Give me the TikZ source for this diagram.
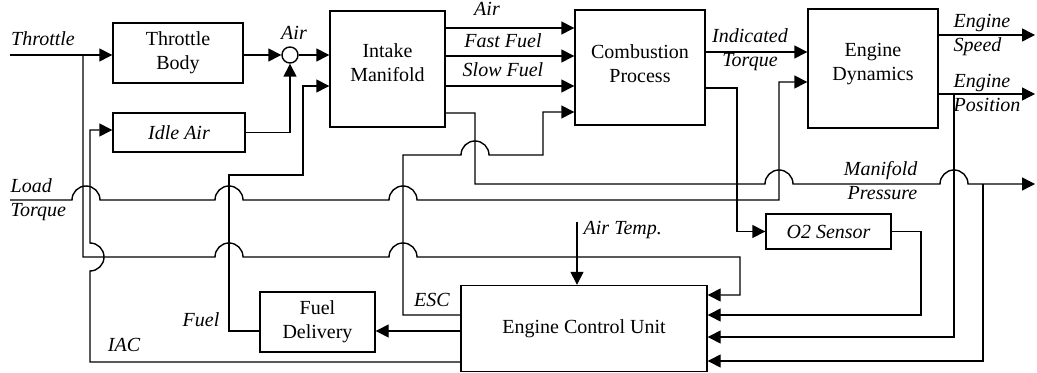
\documentclass[tikz,border=0pt]{standalone}
\usepackage{fontspec}
\setmainfont{Liberation Serif}
\usepackage{tikz}
\usetikzlibrary{arrows.meta,calc}

\begin{document}
\begin{tikzpicture}[x=0.5pt, y=-0.5pt, line width=0.7pt,
    every node/.style={font=\fontsize{10}{12}\selectfont},
    blk/.style={draw, align=center, inner sep=1pt},
    lbl/.style={font=\fontsize{10}{12}\selectfont\itshape, inner sep=1pt},
    arr/.style={-{Triangle[length=6.5pt,width=6.5pt]}}]
      \useasboundingbox (0,0) rectangle (1037,373);
      \node[blk, minimum width=65pt, minimum height=30pt] (tb) at (178,53) {Throttle\\Body};
      \node[blk, minimum width=66pt, minimum height=19.5pt, font=\fontsize{10}{12}\selectfont\itshape] (idle) at (179,132.5) {Idle Air};
      \node[circle, draw, minimum size=8pt, inner sep=0pt] (sum) at (290,55) {};
      \node[blk, minimum width=57.5pt, minimum height=58pt, text depth=6pt] (im) at (387.5,69) {Intake\\Manifold};
      \node[blk, minimum width=65pt, minimum height=57.5pt, text depth=4pt] (cp) at (640,67.5) {Combustion\\Process};
      \node[blk, minimum width=65pt, minimum height=59.5pt, text depth=7pt] (ed) at (873,68.5) {Engine\\Dynamics};
      \node[blk, minimum width=62.5pt, minimum height=17.5pt, font=\fontsize{10}{12}\selectfont\itshape] (o2) at (828.5,231.5) {O2 Sensor};
      \node[blk, minimum width=57.5pt, minimum height=30pt] (fd) at (317.5,322) {Fuel\\Delivery};
      \node[blk, minimum width=123pt, minimum height=43pt] (ecu) at (584,328.5) {Engine Control Unit};
      \coordinate (thr) at (10,55);
      \coordinate (ltq) at (10,200);
      \coordinate (atmp) at (577,222);
      \coordinate (spd) at (1035,35);
      \coordinate (pos) at (1035,94);
      \coordinate (mp) at (1035,184);
      \node[lbl] (lthr) at (43,39) {Throttle};
      \node[lbl] (lair) at (294,33) {Air};
      \node[lbl, anchor=base] (lair2) at (487,16) {Air};
      \node[lbl] (lff) at (503,41) {Fast Fuel};
      \node[lbl] (lsf) at (503,70) {Slow Fuel};
      \node[lbl, align=center] (lit) at (750,50) {Indicated\\Torque};
      \node[lbl, align=left, anchor=west] (lspd) at (951,35) {Engine\\Speed};
      \node[lbl, align=left, anchor=west] (lpos) at (951,93) {Engine\\Position};
      \node[lbl, align=right, anchor=east] (lmp) at (920,181) {Manifold\\Pressure};
      \node[lbl, align=left, anchor=west] (lltq) at (8,200) {Load\\Torque};
      \node[lbl, anchor=west] (lat) at (581,230) {Air Temp.};
      \node[lbl] (lesc) at (432,300) {ESC};
      \node[lbl] (lfuel) at (201,320) {Fuel};
      \node[lbl] (liac) at (124,345) {IAC};
      \draw[arr] (thr) -- (thr -| tb.west);
      \draw[arr] (tb.east |- sum) -- (sum.west);
      \draw[arr] (sum.east) -- (sum -| im.west);
      \draw[arr] (idle.east) -| (sum.south);
      \draw[arr] (83,55) -- (83,257) -- (215,257) arc[start angle=180, end angle=0, radius=7pt]
        -- (389,257) arc[start angle=180, end angle=0, radius=7pt] -- (740,257) |- (ecu.east |- 0,295);
      \draw[arr] (ltq) -- (72,200) arc[start angle=180, end angle=0, radius=7pt]
        -- (215,200) arc[start angle=180, end angle=0, radius=7pt]
        -- (389,200) arc[start angle=180, end angle=0, radius=7pt] -- (779,200) |- (ed.west |- 0,82);
      \draw[arr] (ecu.west |- 0,362) -- (90,362) -- (90,271) arc[start angle=-90, end angle=90, radius=7pt]
        |- (idle.west |- 0,130);
      \draw[arr] (ecu.west |- 0,315) -- (403,315) -- (403,155) -- (461,155) arc[start angle=180, end angle=0, radius=7pt]
        -- (543,155) |- (cp.west |- 0,112);
      \draw[arr] (ecu.west |- 0,331) -- (fd.east |- 0,331);
      \draw[arr] (fd.west |- 0,331) -- (229,331) -- (229,175) -- (303,175) |- (im.west |- 0,86);
      \foreach \yy in {28,56,86}
        \draw[arr] (im.east |- 0,\yy) -- (cp.west |- 0,\yy);
      \draw[arr] (cp.east |- 0,52) -- (ed.west |- 0,52);
      \draw[arr] (cp.east |- 0,88) -- (737,88) |- (o2.west);
      \draw[arr] (o2.east) -| (921,315) -- (ecu.east |- 0,315);
      \draw[arr] (im.east |- 0,113) -- (475,113) -- (475,184) -- (765,184) arc[start angle=180, end angle=0, radius=7pt]
        -- (940,184) arc[start angle=180, end angle=0, radius=7pt] -- (mp);
      \draw[arr] (983,184) |- (ecu.east |- 0,361);
      \draw[arr] (ed.east |- spd) -- (spd);
      \draw[arr] (ed.east |- pos) -- (pos);
      \draw[arr] (954,94) |- (ecu.east |- 0,337);
      \draw[arr] (atmp) -- (atmp |- ecu.north);
    \end{tikzpicture}
\end{document}
